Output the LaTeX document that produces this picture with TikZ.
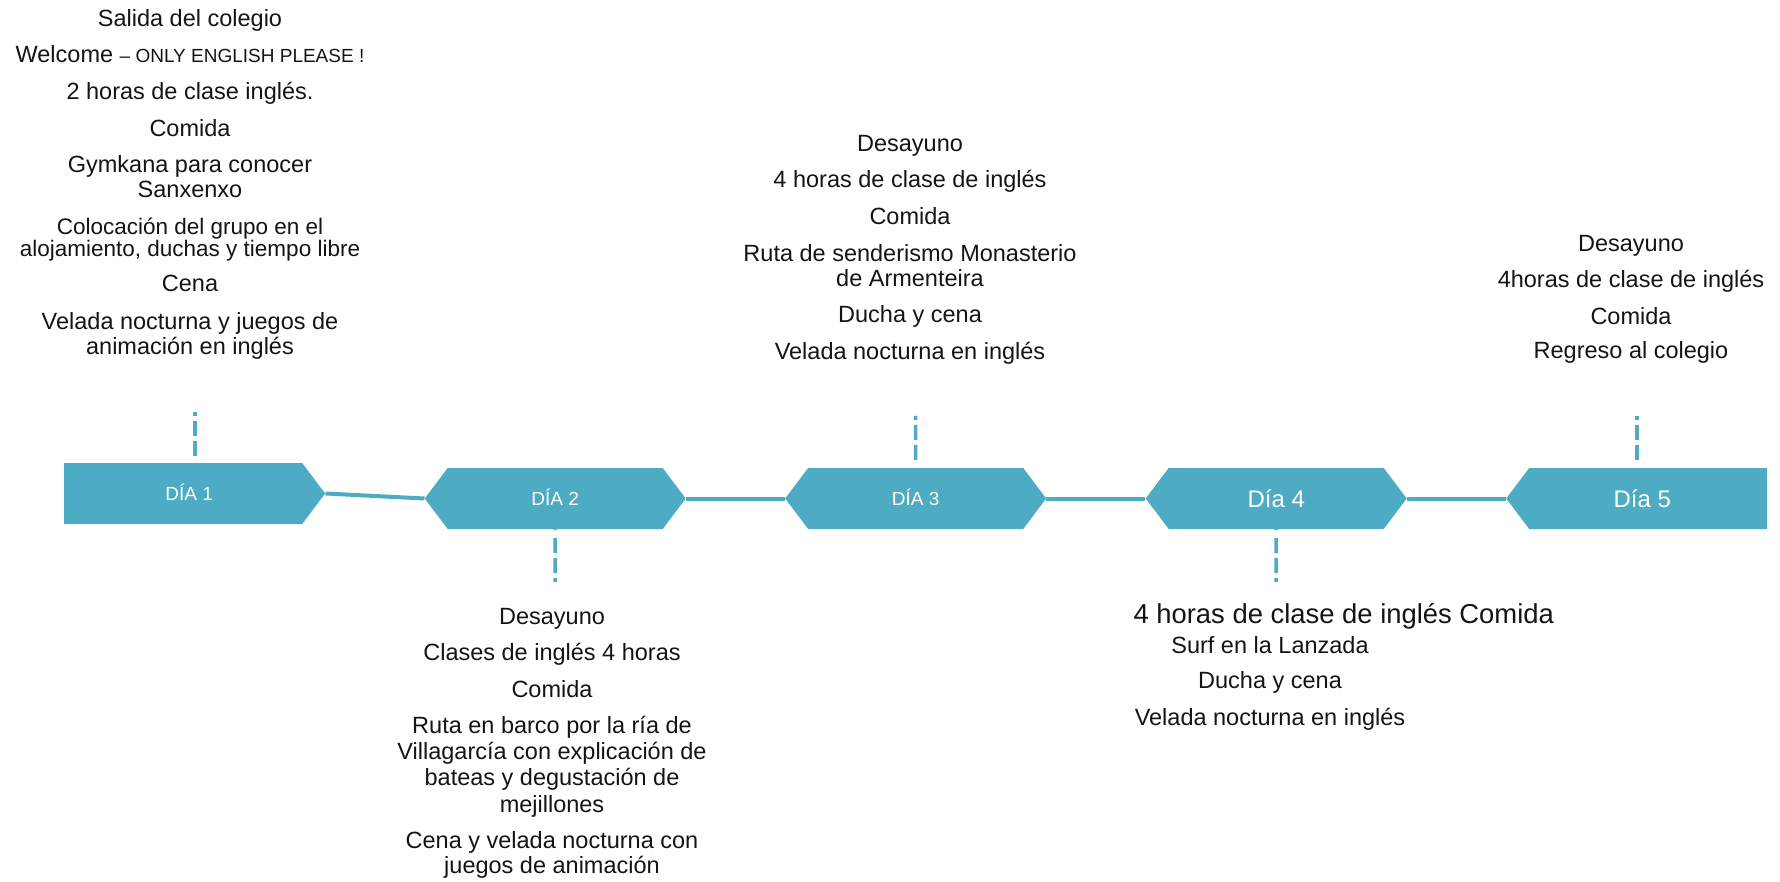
\documentclass[tikz,border=0pt]{standalone}
\usepackage{fontspec}
\setmainfont{Liberation Sans}
\usetikzlibrary{shapes.symbols, positioning}
\definecolor{diateal}{HTML}{4EABC4}
\tikzset{daybox/.style={ % the five day plates
signal, fill=diateal, draw=none, inner sep=0pt,
minimum width=261pt, minimum height=61pt,
signal pointer angle=106, text=white},
smalllabel/.style={font=\fontsize{19}{19}\selectfont, text height=13.6pt, text depth=0pt},
biglabel/.style={font=\fontsize{24}{24}\selectfont, text height=17.2pt, text depth=0pt},
link/.style={draw=diateal, line width=4pt}, % timeline between plates
stem/.style={draw=diateal, line width=3.5pt, % dashed tick to the texts
dash pattern=on 4pt off 5pt on 15pt off 5pt on 15pt off 8pt},
item/.style={anchor=base, text=black!92, font=\fontsize{23.5}{25.5}\selectfont},
smallitem/.style={item, font=\fontsize{22.5}{22}\selectfont}}

\begin{document}
\begin{tikzpicture}[x=1pt, y=-1pt]
    \useasboundingbox (0,0) rectangle (1780,882);

    % day plates
    \node[daybox, smalllabel, signal to=east, anchor=west] (d1) at (64,493.5) {\hspace*{12pt}DÍA 1};
    \node[daybox, smalllabel, signal to=west and east, right=99pt of d1, yshift=-5pt] (d2) {DÍA 2};
    \node[daybox, smalllabel, signal to=west and east, right=99pt of d2] (d3) {DÍA 3};
    \node[daybox, biglabel, signal to=west and east, right=99pt of d3] (d4) {Día 4};
    \node[daybox, biglabel, signal to=west, right=99pt of d4] (d5) {Día 5\hspace*{12pt}};

    \draw[link] (d1.east) -- (d2.west);
    \draw[link] (d2.east) -- (d3.west);
    \draw[link] (d3.east) -- (d4.west);
    \draw[link] (d4.east) -- (d5.west);

    % dashed ticks
    \coordinate[above=51pt of d1.north, xshift=12pt] (u1);
    \coordinate[below=53pt of d2] (u2);
    \coordinate[above=52pt of d3] (u3);
    \coordinate[below=53pt of d4] (u4);
    \coordinate[above=52pt of d5.north, xshift=-11pt] (u5);
    \draw[stem] (u1) -- (u1 |- d1.north);
    \draw[stem] (u2) -- (d2);
    \draw[stem] (u3) -- (d3);
    \draw[stem] (u4) -- (d4);
    \draw[stem] (u5) -- (u5 |- d5.north);

    % day 1
    \node[item] (t1a) at (190,27) {Salida del colegio};
    \node[item] (t1b) at (190,63) {Welcome {\fontsize{19}{20}\selectfont – ONLY ENGLISH PLEASE !}};
    \node[item] (t1c) at (190,100) {2 horas de clase inglés.};
    \node[item] (t1d) at (190,137) {Comida};
    \node[item] (t1e) at (190,173) {Gymkana para conocer};
    \node[item] (t1f) at (190,198) {Sanxenxo};
    \node[smallitem] (t1g) at (190,235) {Colocación del grupo en el};
    \node[smallitem] (t1h) at (190,257) {alojamiento, duchas y tiempo libre};
    \node[item] (t1i) at (190,292) {Cena};
    \node[item] (t1j) at (190,330) {Velada nocturna y juegos de};
    \node[item] (t1k) at (190,355) {animación en inglés};

    % day 2
    \node[item] (t2a) at (552,624) {Desayuno};
    \node[item] (t2b) at (552,660) {Clases de inglés 4 horas};
    \node[item] (t2c) at (552,697) {Comida};
    \node[item] (t2d) at (552,733) {Ruta en barco por la ría de};
    \node[item] (t2e) at (552,759) {Villagarcía con explicación de};
    \node[item] (t2f) at (552,785) {bateas y degustación de};
    \node[item] (t2g) at (552,812) {mejillones};
    \node[item] (t2h) at (552,848) {Cena y velada nocturna con};
    \node[item] (t2i) at (552,873) {juegos de animación};

    % day 3
    \node[item] (t3a) at (910,152) {Desayuno};
    \node[item] (t3b) at (910,188) {4 horas de clase de inglés};
    \node[item] (t3c) at (910,225) {Comida};
    \node[item] (t3d) at (910,262) {Ruta de senderismo Monasterio};
    \node[item] (t3e) at (910,287) {de Armenteira};
    \node[item] (t3f) at (910,323) {Ducha y cena};
    \node[item] (t3g) at (910,360) {Velada nocturna en inglés};

    % day 4
    \node[item, anchor=base west, font=\fontsize{27.4}{28}\selectfont] (t4a) at (1130,623) {4 horas de clase de inglés Comida};
    \node[item] (t4b) at (1270,653) {Surf en la Lanzada};
    \node[item] (t4c) at (1270,688) {Ducha y cena};
    \node[item] (t4d) at (1270,725) {Velada nocturna en inglés};

    % day 5
    \node[item] (t5a) at (1631,252) {Desayuno};
    \node[item] (t5b) at (1631,288) {4horas de clase de inglés};
    \node[item] (t5c) at (1631,325) {Comida};
    \node[item] (t5d) at (1631,359) {Regreso al colegio};

\end{tikzpicture}
\end{document}
